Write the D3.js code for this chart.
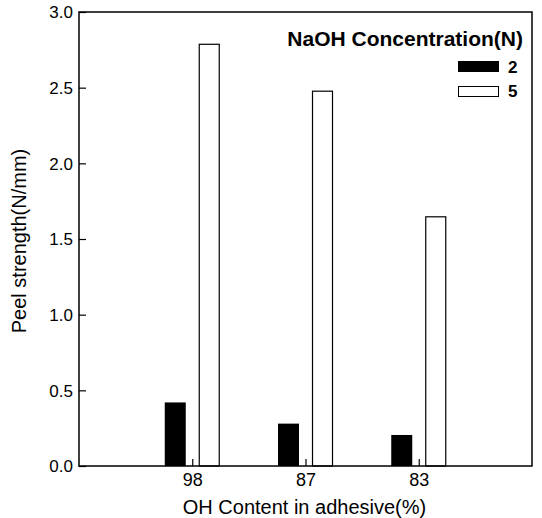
<!DOCTYPE html>
<html>
<head>
<meta charset="utf-8">
<script src="https://cdn.jsdelivr.net/npm/d3@7"></script>
<style>
body { margin: 0; background: #fff; }
text { font-family: "Liberation Sans", Arial, sans-serif; fill: #000; }
</style>
</head>
<body>
<svg width="542" height="518"></svg>
<script>
// data
const categories = ["98", "87", "83"]
const series = ["2", "5"]
const naoh2 = [0.42, 0.28, 0.205]
const naoh5 = [2.79, 2.48, 1.65]
const yTicks = [0, 0.5, 1.0, 1.5, 2.0, 2.5, 3.0]

const margin = { top: 12, right: 10, bottom: 52, left: 79 },
    width = 542 - margin.left - margin.right,
    height = 518 - margin.top - margin.bottom;

const svg = d3.select("svg");
const g = svg.append("g").attr("transform", "translate(" + margin.left + "," + margin.top + ")");

// scales
const x = d3.scaleLinear().domain([0, 4]).range([0, width]);
const y = d3.scaleLinear().domain([0, 3]).range([height, 0]);
const off = 17, bw = 21;

// bars
const rows = categories.map((c, i) => ({ cat: c, i: i + 1, v2: naoh2[i], v5: naoh5[i] }));
g.selectAll(".b2").data(rows).enter().append("rect")
    .attr("x", d => x(d.i) - off - bw / 2).attr("y", d => y(d.v2))
    .attr("width", bw).attr("height", d => y(0) - y(d.v2))
    .attr("fill", "#000");
g.selectAll(".b5").data(rows).enter().append("rect")
    .attr("x", d => x(d.i) + off - bw / 2 + 0.5).attr("y", d => y(d.v5) + 0.5)
    .attr("width", bw - 1).attr("height", d => y(0) - y(d.v5) - 0.5)
    .attr("fill", "#fff").attr("stroke", "#000").attr("stroke-width", 1.2);

// frame
g.append("rect").attr("width", width).attr("height", height)
    .attr("fill", "none").attr("stroke", "#000").attr("stroke-width", 1.5);

// axes
const yAxis = g.append("g").call(d3.axisLeft(y).tickValues(yTicks).tickFormat(d3.format(".1f")).tickSize(-7).tickPadding(6));
yAxis.select(".domain").remove();
yAxis.selectAll("line").attr("stroke-width", 1.2);
yAxis.selectAll("text").style("font-size", "17px").attr("dy", "0.35em");

const xAxis = g.append("g").attr("transform", "translate(0," + height + ")")
    .call(d3.axisBottom(x).tickValues([1, 2, 3]).tickFormat(d => categories[d - 1]).tickSize(-7).tickPadding(6));
xAxis.select(".domain").remove();
xAxis.selectAll("line").attr("stroke-width", 1.2);
xAxis.selectAll("text").style("font-size", "18px").attr("dy", "0.75em");

// axis titles
svg.append("text").attr("x", margin.left + width / 2 - 1).attr("y", 514)
    .attr("text-anchor", "middle").style("font-size", "20px").text("OH Content in adhesive(%)");
svg.append("text").attr("transform", "translate(26," + (margin.top + height / 2 + 2) + ") rotate(-90)")
    .attr("text-anchor", "middle").style("font-size", "20px").text("Peel strength(N/mm)");

// legend
const lg = svg.append("g");
lg.append("text").attr("x", 523).attr("y", 46).attr("text-anchor", "end")
    .style("font-size", "21px").style("font-weight", "bold").text("NaOH Concentration(N)");
series.forEach((s, i) => {
    lg.append("rect").attr("x", 458.5).attr("y", 61.5 + i * 25).attr("width", 40).attr("height", 10)
        .attr("fill", i === 0 ? "#000" : "#fff").attr("stroke", "#000").attr("stroke-width", 1);
    lg.append("text").attr("x", 508).attr("y", 73 + i * 24)
        .style("font-size", "17px").style("font-weight", "bold").text(s);
});
</script>
</body>
</html>
